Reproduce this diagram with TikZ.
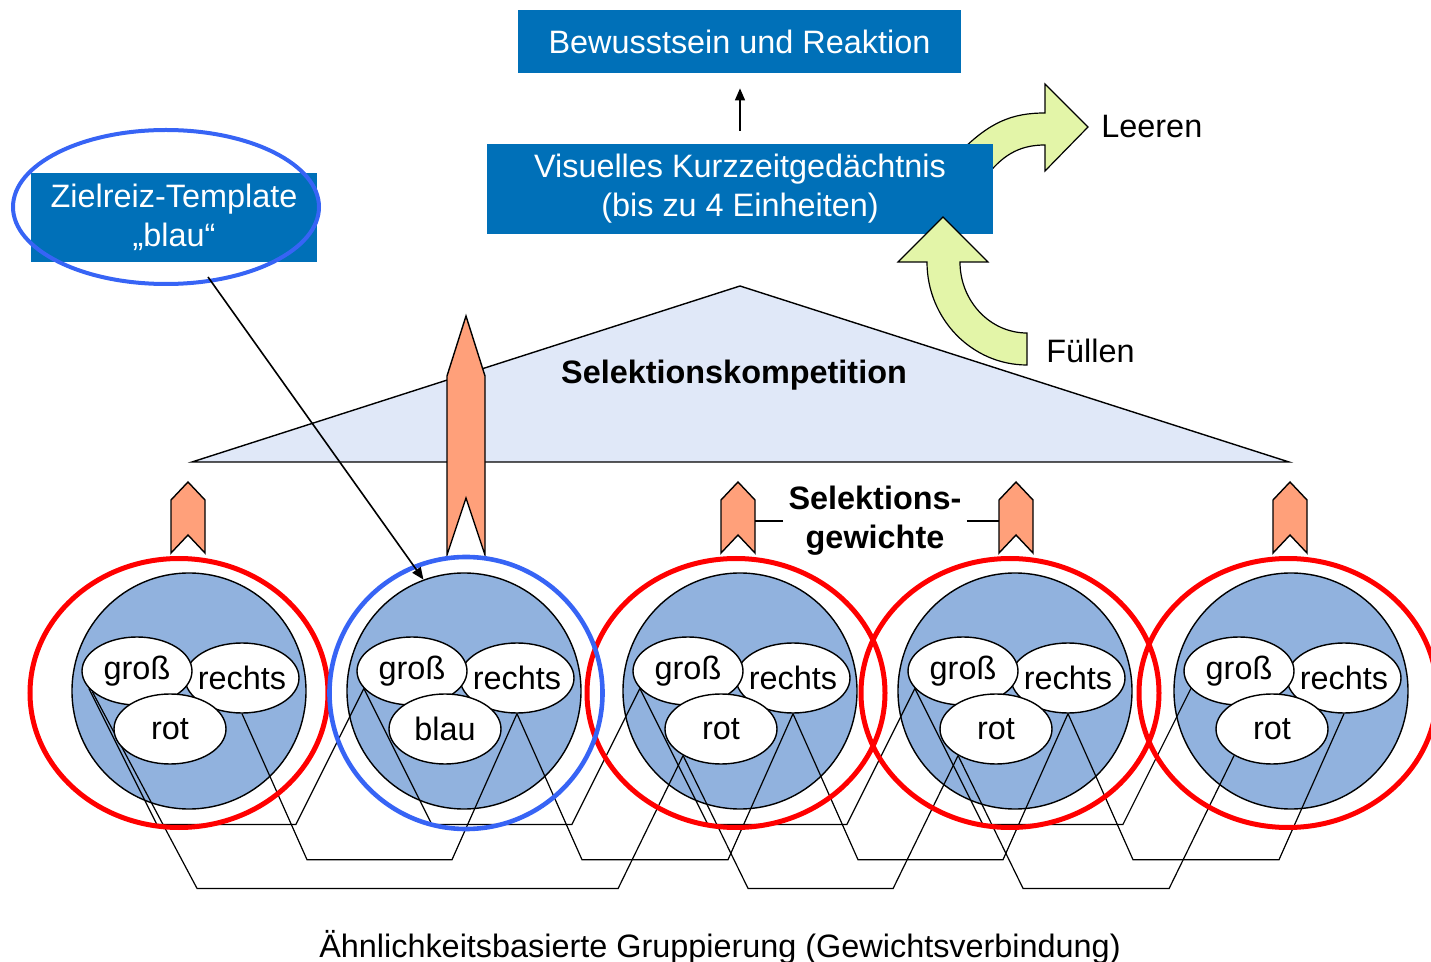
\documentclass[tikz,border=0pt]{standalone}
\usepackage{fontspec}
\setmainfont{Liberation Sans}
\usepackage{tikz}
\usetikzlibrary{arrows.meta, positioning, shapes.geometric, calc}
\usepackage{xcolor}

\definecolor{kastenblau}{RGB}{0,112,184}
\definecolor{ringblau}{RGB}{55,100,245}
\definecolor{objblau}{RGB}{145,178,222}
\definecolor{dreieck}{RGB}{224,232,248}
\definecolor{lachs}{RGB}{255,160,122}
\definecolor{hellgruen}{RGB}{227,245,168}

\pgfdeclarelayer{hinten}
\pgfdeclarelayer{linien}
\pgfsetlayers{hinten,linien,main}

\newcommand{\schrift}{\fontsize{16.2}{19.5}\selectfont}
\newcommand{\mtext}[1]{\makebox[0pt]{#1}}

\begin{document}
\begin{tikzpicture}[x=0.5pt, y=-0.5pt,
    kasten/.style={fill=kastenblau, text=white, font=\schrift, align=center, inner sep=0pt},
    objekt/.style={ellipse, draw, line width=0.7pt, fill=objblau, minimum width=117pt, minimum height=118pt, inner sep=0pt},
    merkmal/.style={ellipse, draw, line width=0.7pt, fill=white, font=\schrift, inner sep=0pt},
    rotring/.style={ellipse, draw=red, line width=2.5pt, minimum width=149pt, minimum height=134.5pt, inner sep=0pt},
    blauring/.style={ellipse, draw=ringblau, line width=2.3pt, minimum width=136.5pt, minimum height=136pt, inner sep=0pt},
    verbindung/.style={line width=0.6pt},
    gewicht/.style={fill=lachs, draw, line width=0.7pt},
    gruenpfeil/.style={fill=hellgruen, draw, line width=0.6pt},
    pfeil/.style={line width=0.8pt, -{Triangle[length=6pt, width=5pt]}},
    beschriftung/.style={font=\schrift, inner sep=0pt}
  ]
  \useasboundingbox (0,0) rectangle (1431,962);

  % Leeren (hinter dem Kasten)
  \draw[gruenpfeil] (960,152) .. controls (990,122) and (1012,113) .. (1045,113) -- (1045,84) -- (1088,127)
    -- (1045,171) -- (1045,145) .. controls (1022,145) and (1005,153) .. (988,174) -- cycle;

  % Kaesten
  \node[kasten, minimum width=221.5pt, minimum height=31.5pt] (bewusst) at (739.5,41.5) {Bewusstsein und Reaktion};
  \node[kasten, minimum width=253pt, minimum height=45pt] (vkg) at (740,189) {Visuelles Kurzzeitgedächtnis\\(bis zu 4 Einheiten)};
  \node[kasten, minimum width=143pt, minimum height=44.5pt] (template) at (174,217.5) {Zielreiz-Template\\„blau“};
  \node[ellipse, draw=ringblau, line width=2pt, minimum width=153pt, minimum height=77pt] (zielring) at (166,207) {};

  \draw[pfeil, shorten <=6.5pt, shorten >=7.5pt] (vkg.north) -- (vkg.north |- bewusst.south);

  % Fuellen
  \draw[gruenpfeil] (1027,333) .. controls (990,333) and (960,301) .. (960,262) -- (988,262) -- (943,217)
    -- (898,262) -- (927,262) .. controls (927,319) and (972,365) .. (1027,365) -- cycle;
  \node[beschriftung, anchor=west] (leeren) at (1101,127) {Leeren};
  \node[beschriftung, anchor=west] (fuellen) at (1046,351) {Füllen};

  % Selektionskompetition
  \draw[fill=dreieck, line width=0.7pt] (192,462) -- (740,286) -- (1289,462) -- cycle;
  \node[beschriftung, font=\schrift\bfseries, anchor=base] (kompetition) at (734,384) {Selektionskompetition};

  % Selektionsgewichte
  \draw[gewicht] (466,316) -- (485,376) -- (485,555) -- (466,498) -- (447,555) -- (447,376) -- cycle;
  \foreach \x in {188,738,1016,1290}
    \draw[gewicht] (\x,482) -- ++(17,18) -- ++(0,53) -- ++(-17,-18) -- ++(-17,18) -- ++(0,-53) -- cycle;
  \coordinate (gw3) at (755,521);
  \coordinate (gw4) at (999,521);
  \node[beschriftung, font=\schrift\bfseries, align=center, inner sep=2.5pt] (gewichte) at (875,521) {Selektions-\\gewichte};
  \draw[line width=0.6pt] (gewichte.west) -- (gw3);
  \draw[line width=0.6pt] (gewichte.east) -- (gw4);

  % Objekte
  \foreach \k/\cx/\farbe in {1/189/rot, 2/464/blau, 3/740/rot, 4/1015/rot, 5/1291/rot}{
    \begin{pgfonlayer}{hinten}
      \node[objekt] (obj\k) at (\cx,691) {};
    \end{pgfonlayer}
    \node[merkmal, minimum width=57pt, minimum height=35pt] (rechts\k) at (\cx+53,678) {\mtext{rechts}};
    \node[merkmal, minimum width=55pt, minimum height=34pt] (gross\k) at (\cx-52,671) {\mtext{groß}};
    \node[merkmal, minimum width=56pt, minimum height=35pt] (farbe\k) at (\cx-19,729) {\mtext{\farbe}};
  }
  \foreach \k/\rx in {1/179, 3/736, 4/1010, 5/1288}
    \node[rotring] (ring\k) at (\rx,693) {};
  \node[blauring] (ring2) at (466,693) {};

  % Gewichtsverbindungen
  \begin{pgfonlayer}{linien}
    \foreach \a/\b in {1/2, 2/3, 3/4, 4/5}{
      \draw[verbindung] (gross\a.200) -- ++(68,136) -- ($(gross\b.200)+(-68,136)$) -- (gross\b.200);
      \draw[verbindung] (rechts\a.south) -- ++(65,146) -- ($(rechts\b.south)+(-65,146)$) -- (rechts\b.south);
    }
    \draw[verbindung] (gross1.205) -- ($(farbe1.215)+(65,133)$) -- ($(farbe3.215)+(-65,133)$) -- (farbe3.215);
    \foreach \a/\b in {3/4, 4/5}
      \draw[verbindung] (farbe\a.215) -- ++(65,133) -- ($(farbe\b.215)+(-65,133)$) -- (farbe\b.215);
  \end{pgfonlayer}

  % Template -> Objekt
  \coordinate (zielstart) at (208,277);
  \draw[pfeil] (zielstart) -- (obj2.110);

  \node[beschriftung, anchor=base] (gruppierung) at (720,957) {Ähnlichkeitsbasierte Gruppierung (Gewichtsverbindung)};
\end{tikzpicture}
\end{document}
